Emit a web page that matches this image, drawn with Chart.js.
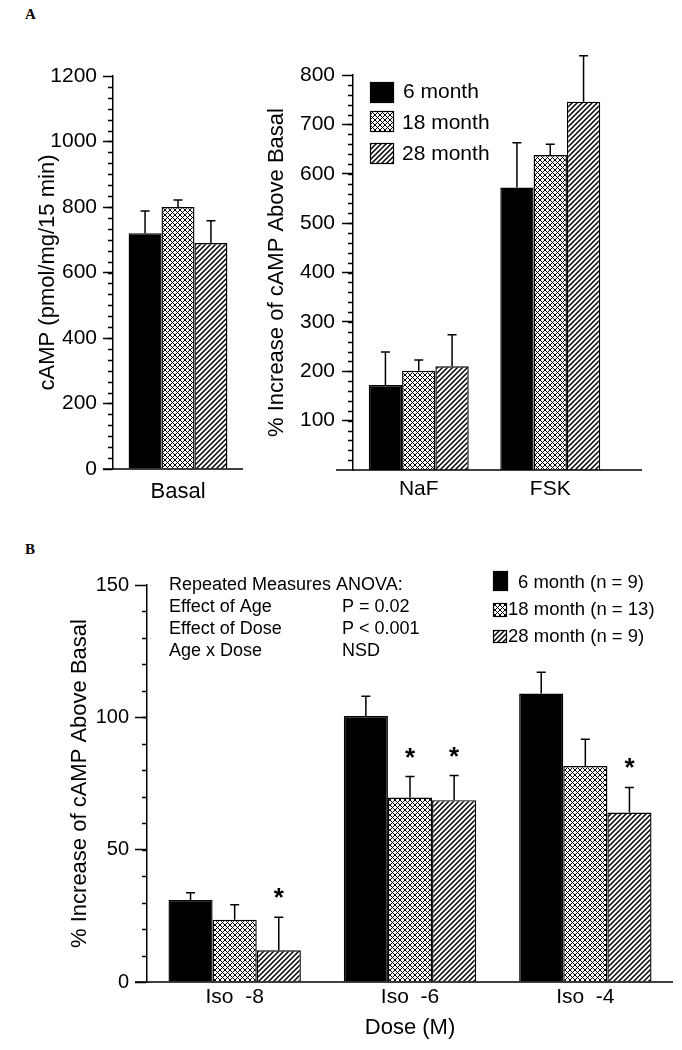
<!DOCTYPE html>
<html>
<head>
<meta charset="utf-8">
<title>cAMP response by age</title>
<script src="https://cdn.jsdelivr.net/npm/chart.js@4.4.0/dist/chart.umd.min.js"></script>
<style>
  html, body { margin: 0; padding: 0; background: #fff; }
  #page { position: relative; width: 682px; height: 1050px; overflow: hidden; }
  #page canvas { position: absolute; }
  .tag { position: absolute; font: bold 15px "Liberation Serif", "Times New Roman", serif; color: #000; }
</style>
</head>
<body>
<div id="page">
  <div class="tag" style="left:25px; top:6px;">A</div>
  <div class="tag" style="left:25px; top:541px;">B</div>
  <canvas id="basalChart" width="250" height="520" style="left:0; top:0;"></canvas>
  <canvas id="stimChart" width="432" height="520" style="left:250px; top:0;"></canvas>
  <canvas id="doseChart" width="682" height="540" style="left:0; top:510px;"></canvas>
</div>
<script>
// ---- data ----
const ageLabels = ['6 month', '18 month', '28 month'];
const ageLabelsN = ['6 month (n = 9)', '18 month (n = 13)', '28 month (n = 9)'];

// panel A, left: basal cAMP (pmol/mg/15 min)
const basalCategories = ['Basal'];
const basal6 = [720];
const basal18 = [800];
const basal28 = [690];
const basalErr6 = [68];
const basalErr18 = [21];
const basalErr28 = [68];
const basalTicks = [0, 200, 400, 600, 800, 1000, 1200];

// panel A, right: % increase above basal
const stimCategories = ['NaF', 'FSK'];
const stim6 = [172, 572];
const stim18 = [201, 638];
const stim28 = [210, 746];
const stimErr6 = [67, 91];
const stimErr18 = [22, 22];
const stimErr28 = [64, 93];
const stimTicks = [100, 200, 300, 400, 500, 600, 700, 800];

// panel B: isoproterenol dose response
const doseCategories = ['Iso  -8', 'Iso  -6', 'Iso  -4'];
const dose6 = [31, 100.5, 109];
const dose18 = [23.5, 69.7, 81.6];
const dose28 = [12, 68.7, 64];
const doseErr6 = [2.7, 7.5, 8];
const doseErr18 = [5.7, 7.9, 10.1];
const doseErr28 = [12.5, 9.3, 9.5];
const doseStar18 = [false, true, false];
const doseStar28 = [true, true, true];
const doseTicks = [0, 50, 100, 150];

const anovaRows = [
    ['Repeated Measures ANOVA:', ''],
    ['Effect of Age', 'P = 0.02'],
    ['Effect of Dose', 'P < 0.001'],
    ['Age x Dose', 'NSD']
];

const FONT = '"Liberation Sans", Arial, Helvetica, sans-serif';
Chart.defaults.font.family = FONT;
Chart.defaults.color = '#000';

// fill patterns: black, crosshatch, diagonal hatch
function makePattern(cross, size, width) {
    const tile = document.createElement('canvas');
    tile.width = size;
    tile.height = size;
    const g = tile.getContext('2d');
    g.fillStyle = '#fff';
    g.fillRect(0, 0, size, size);
    g.strokeStyle = '#000';
    g.lineWidth = width;
    g.beginPath();
    g.moveTo(-1, size + 1); g.lineTo(size + 1, -1);
    g.moveTo(-1, 1); g.lineTo(1, -1);
    g.moveTo(size - 1, size + 1); g.lineTo(size + 1, size - 1);
    if (cross) {
        g.moveTo(-1, -1); g.lineTo(size + 1, size + 1);
        g.moveTo(size - 1, -1); g.lineTo(size + 1, 1);
        g.moveTo(-1, size - 1); g.lineTo(1, size + 1);
    }
    g.stroke();
    return g.createPattern(tile, 'repeat');
}
const fills = ['#000', makePattern(true, 5, 1), makePattern(false, 5, 1.5)];

// axis baseline, minor ticks, error bars, stars, legend and notes
const extras = {
    id: 'extras',
    afterDatasetsDraw(chart, args, o) {
        const ctx = chart.ctx;
        const area = chart.chartArea;
        const y = chart.scales.y;
        ctx.save();
        ctx.strokeStyle = '#000';
        ctx.fillStyle = '#000';

        // x baseline, a bit wider than the plot
        const by = y.getPixelForValue(0);
        ctx.lineWidth = 1.5;
        ctx.beginPath();
        ctx.moveTo(area.left - o.baseLeft, by);
        ctx.lineTo(area.right + o.baseRight, by);
        ctx.stroke();

        // minor ticks
        ctx.lineWidth = 1.3;
        ctx.beginPath();
        for (let v = y.min + o.minorStep; v < y.max; v += o.minorStep) {
            const py = Math.round(y.getPixelForValue(v)) + 0.5;
            ctx.moveTo(area.left - o.minorLen, py);
            ctx.lineTo(area.left, py);
        }
        ctx.stroke();

        // error bars (upper only) and significance stars
        ctx.font = 'bold 26px ' + FONT;
        const m = ctx.measureText('*');
        const starShift = (m.actualBoundingBoxAscent - m.actualBoundingBoxDescent) / 2;
        chart.data.datasets.forEach((ds, i) => {
            const meta = chart.getDatasetMeta(i);
            meta.data.forEach((bar, j) => {
                const top = y.getPixelForValue(ds.data[j] + ds.errors[j]);
                ctx.lineWidth = 1.5;
                ctx.beginPath();
                ctx.moveTo(bar.x, bar.y);
                ctx.lineTo(bar.x, top);
                ctx.moveTo(bar.x - 4.5, top);
                ctx.lineTo(bar.x + 4.5, top);
                ctx.stroke();
                if (ds.stars && ds.stars[j]) {
                    ctx.textAlign = 'center';
                    ctx.textBaseline = 'alphabetic';
                    ctx.fillText('*', bar.x, top - o.starGap + starShift);
                }
            });
        });

        // legend boxes
        if (o.legend) {
            const L = o.legend;
            ctx.font = L.font + 'px ' + FONT;
            ctx.textAlign = 'left';
            ctx.textBaseline = 'middle';
            chart.data.datasets.forEach((ds, i) => {
                ctx.fillStyle = ds.backgroundColor;
                ctx.fillRect(L.boxX, L.boxTop[i], L.boxW[i], L.boxH[i]);
                ctx.lineWidth = 1.2;
                ctx.strokeRect(L.boxX + 0.5, L.boxTop[i] + 0.5, L.boxW[i] - 1, L.boxH[i] - 1);
                ctx.fillStyle = '#000';
                ctx.fillText(L.labels[i], L.textX[i], L.textY[i]);
            });
        }

        // statistics note
        if (o.notes) {
            const N = o.notes;
            ctx.font = N.font + 'px ' + FONT;
            ctx.textAlign = 'left';
            ctx.textBaseline = 'middle';
            N.rows.forEach((row, k) => {
                ctx.fillText(row[0], N.x1, N.y0 + k * N.dy);
                if (row[1]) ctx.fillText(row[1], N.x2, N.y0 + k * N.dy);
            });
        }
        ctx.restore();
    }
};

function makeSets(values, errors, stars) {
    return values.map((v, i) => ({
        label: ageLabels[i],
        data: v,
        errors: errors[i],
        stars: stars ? stars[i] : null,
        backgroundColor: fills[i],
        borderColor: '#000',
        borderWidth: 1.4,
        borderSkipped: 'start'
    }));
}

function barChart(id, cats, sets, o) {
    return new Chart(document.getElementById(id), {
        type: 'bar',
        data: { labels: cats, datasets: sets },
        options: {
            responsive: false,
            animation: false,
            events: [],
            layout: { padding: { top: o.top, right: o.right, left: 0, bottom: 0 } },
            datasets: { bar: { barPercentage: 1, categoryPercentage: o.catPct } },
            plugins: {
                legend: { display: false },
                tooltip: { enabled: false },
                extras: o.extras
            },
            scales: {
                x: {
                    grid: { display: false, drawTicks: false },
                    border: { display: false },
                    ticks: { font: { size: o.xFont }, padding: o.xPad, maxRotation: 0, autoSkip: false },
                    title: o.xTitle
                        ? { display: true, text: o.xTitle, font: { size: 22 }, padding: { top: 0, bottom: o.xTitlePad } }
                        : { display: false },
                    afterFit: s => { s.height = o.xHeight; }
                },
                y: {
                    min: o.ticks[0] > 0 ? 0 : o.ticks[0],
                    max: o.ticks[o.ticks.length - 1],
                    afterBuildTicks: s => { s.ticks = o.ticks.map(v => ({ value: v })); },
                    grid: { drawOnChartArea: false, tickLength: o.tickLen, tickWidth: 1.5, tickColor: '#000' },
                    border: { color: '#000', width: 1.5 },
                    ticks: { font: { size: o.yFont }, padding: o.yPad, callback: v => String(v) },
                    title: { display: true, text: o.yTitle, font: { size: 22 }, padding: { top: o.yTitlePad, bottom: 0 } },
                    afterFit: s => { s.width = o.yWidth; }
                }
            }
        },
        plugins: [extras]
    });
}

barChart('basalChart', basalCategories,
    makeSets([basal6, basal18, basal28], [basalErr6, basalErr18, basalErr28]), {
    top: 76, right: 7, yWidth: 113, xHeight: 51, catPct: 0.76,
    ticks: basalTicks, tickLen: 10, yPad: 6, yFont: 21,
    yTitle: 'cAMP (pmol/mg/15 min)', yTitlePad: 35,
    xFont: 22, xPad: 10,
    extras: { baseLeft: 10, baseRight: 0, minorStep: 200 / 6, minorLen: 5, starGap: 24 }
});

barChart('stimChart', stimCategories,
    makeSets([stim6, stim18, stim28], [stimErr6, stimErr18, stimErr28]), {
    top: 75, right: 66, yWidth: 103, xHeight: 50, catPct: 0.76,
    ticks: stimTicks, tickLen: 11, yPad: 7, yFont: 21,
    yTitle: '% Increase of cAMP Above Basal', yTitlePad: 14,
    xFont: 21, xPad: 7,
    extras: {
        baseLeft: 17, baseRight: 26, minorStep: 20, minorLen: 5, starGap: 24,
        legend: {
            labels: ageLabels, font: 21, boxX: 120,
            boxTop: [82, 111, 143], boxW: [24, 24, 24], boxH: [21, 21, 21],
            textX: [153, 152, 152], textY: [92, 123, 154]
        }
    }
});

barChart('doseChart', doseCategories,
    makeSets([dose6, dose18, dose28], [doseErr6, doseErr18, doseErr28], [null, doseStar18, doseStar28]), {
    top: 75, right: 9, yWidth: 147, xHeight: 68, catPct: 0.755,
    ticks: doseTicks, tickLen: 12, yPad: 6, yFont: 20,
    yTitle: '% Increase of cAMP Above Basal', yTitlePad: 67,
    xFont: 21, xPad: 2.4, xTitle: 'Dose (M)', xTitlePad: 8.8,
    extras: {
        baseLeft: 12, baseRight: 0, minorStep: 10, minorLen: 5, starGap: 24,
        legend: {
            labels: ageLabelsN, font: 18.5, boxX: 493,
            boxTop: [61, 93, 120], boxW: [15, 14, 14], boxH: [20, 14, 13],
            textX: [518, 508, 508], textY: [73, 100, 127]
        },
        notes: { rows: anovaRows, font: 18, x1: 169, x2: 342, y0: 75, dy: 22 }
    }
});
</script>
</body>
</html>
